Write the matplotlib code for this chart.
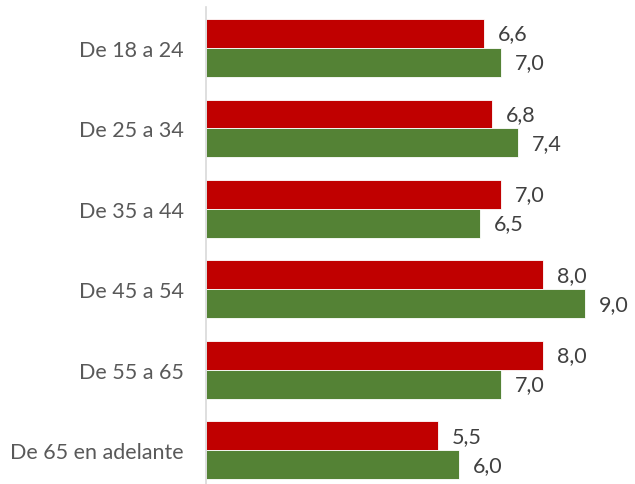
import matplotlib
matplotlib.use("Agg")
import matplotlib.pyplot as plt
import numpy as np

categories = ["De 18 a 24", "De 25 a 34", "De 35 a 44", "De 45 a 54",
              "De 55 a 65", "De 65 en adelante"]
red_values = [6.6, 6.8, 7.0, 8.0, 8.0, 5.5]
green_values = [7.0, 7.4, 6.5, 9.0, 7.0, 6.0]

RED = "#C00000"
GREEN = "#548235"

plt.rcParams["font.family"] = ["Lato", "DejaVu Sans"]

fig = plt.figure(figsize=(6.35, 4.85), dpi=100)
ax = fig.add_axes([206 / 635, 0, 421 / 635, 477 / 485])

y = np.arange(len(categories))
h = 0.36
red_bars = ax.barh(y - h / 2, red_values, height=h, color=RED,
                   edgecolor="white", linewidth=0.6)
green_bars = ax.barh(y + h / 2, green_values, height=h, color=GREEN,
                     edgecolor="white", linewidth=0.6)

for bars in (red_bars, green_bars):
    labels = [f"{b.get_width():.1f}".replace(".", ",") for b in bars]
    ax.bar_label(bars, labels=labels, padding=10, fontsize=15.5,
                 color="#404040")

ax.set_xlim(0, 10)
ax.set_ylim(5.42, -0.51)
ax.set_yticks(y)
ax.set_yticklabels(categories, fontsize=15.5, color="#595959")
ax.tick_params(axis="y", length=0, pad=16)
ax.set_xticks([])

for side in ("top", "right", "bottom"):
    ax.spines[side].set_visible(False)
ax.spines["left"].set_color("#D9D9D9")
ax.spines["left"].set_linewidth(1.2)

fig.savefig("out.png", dpi=100)
